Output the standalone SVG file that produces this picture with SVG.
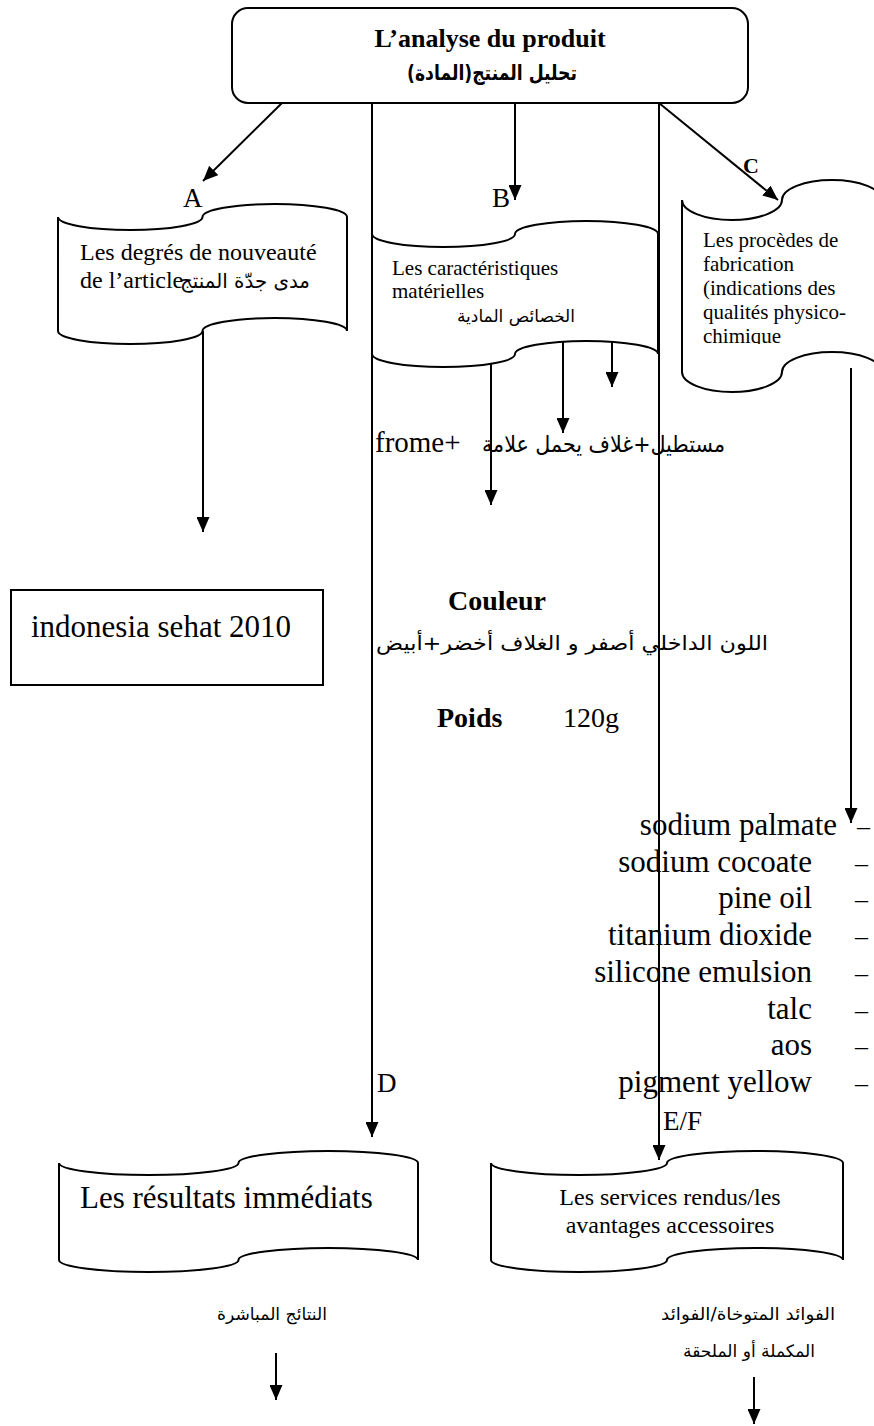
<svg xmlns="http://www.w3.org/2000/svg" width="874" height="1426" viewBox="0 0 874 1426">
<style>
.t{font-family:"Liberation Serif","Times New Roman",serif;fill:#000}
.b{font-weight:bold}
.ar{font-family:"DejaVu Sans",sans-serif;fill:#000}
.shape{fill:#fff;stroke:#000;stroke-width:2}
.ln{fill:none;stroke:#000;stroke-width:2}
</style>
<defs>
<marker id="ah" markerUnits="userSpaceOnUse" markerWidth="15" markerHeight="13" refX="15" refY="6.5" orient="auto">
<path d="M0,0 L15,6.5 L0,13 Z" fill="#000"/>
</marker>
<clipPath id="cclip"><rect x="682" y="200" width="200" height="144"/></clipPath>
</defs>
<rect width="874" height="1426" fill="#fff"/>

<g id="node-title">
<rect class="shape" x="232" y="8" width="516" height="95" rx="16"/>
<text class="t b" x="490" y="47" font-size="26" text-anchor="middle">L’analyse du produit</text>
<text class="ar b" x="492" y="80" font-size="21" text-anchor="middle" textLength="170" lengthAdjust="spacingAndGlyphs">تحليل المنتج(المادة)&#x200F;</text>
</g>

<g id="node-A">
<path class="shape" d="M58,217 A72.25,13 0 0 0 202.5,217 A72.25,13 0 0 1 347,217 L347,331 A72.25,13 0 0 0 202.5,331 A72.25,13 0 0 1 58,331 Z"/>
<text class="t" x="80" y="260" font-size="24">Les degrés de nouveauté</text>
<text class="t" x="80" y="288" font-size="24">de l’article</text>
<text class="ar" x="245" y="288" font-size="20" text-anchor="middle" textLength="130" lengthAdjust="spacingAndGlyphs">مدى جدّة المنتج</text>
</g>

<g id="node-B">
<path class="shape" d="M372,234 A71.5,13 0 0 0 515,234 A71.5,13 0 0 1 658,234 L658,354 A71.5,13 0 0 0 515,354 A71.5,13 0 0 1 372,354 Z"/>
<text class="t" x="392" y="275" font-size="21">Les caractéristiques</text>
<text class="t" x="392" y="298" font-size="21">matérielles</text>
<text class="ar" x="516" y="322" font-size="17" text-anchor="middle" textLength="118" lengthAdjust="spacingAndGlyphs">الخصائص المادية</text>
</g>

<g id="node-C">
<path class="shape" d="M682,200 A50,20 0 0 0 782,200 A50,20 0 0 1 882,200 L882,372 A50,20 0 0 0 782,372 A50,20 0 0 1 682,372 Z"/>
<g clip-path="url(#cclip)">
<text class="t" x="703" y="247" font-size="21">Les procèdes de</text>
<text class="t" x="703" y="271" font-size="21">fabrication</text>
<text class="t" x="703" y="295" font-size="21">(indications des</text>
<text class="t" x="703" y="319" font-size="21">qualités physico-</text>
<text class="t" x="703" y="343" font-size="21">chimique</text>
</g>
</g>

<g id="node-indonesia">
<rect class="shape" x="11" y="590" width="312" height="95"/>
<text class="t" x="31" y="637" font-size="31">indonesia sehat 2010</text>
</g>

<g id="node-results">
<path class="shape" d="M59,1163 A89.75,12 0 0 0 238.5,1163 A89.75,12 0 0 1 418,1163 L418,1260 A89.75,12 0 0 0 238.5,1260 A89.75,12 0 0 1 59,1260 Z"/>
<text class="t" x="80" y="1208" font-size="31">Les résultats immédiats</text>
</g>

<g id="node-services">
<path class="shape" d="M491,1163 A88,12 0 0 0 667,1163 A88,12 0 0 1 843,1163 L843,1260 A88,12 0 0 0 667,1260 A88,12 0 0 1 491,1260 Z"/>
<text class="t" x="670" y="1205" font-size="24" text-anchor="middle">Les services rendus/les</text>
<text class="t" x="670" y="1233" font-size="24" text-anchor="middle">avantages accessoires</text>
</g>

<g id="labels">
<text class="t" x="183" y="207" font-size="27">A</text>
<text class="t" x="492" y="207" font-size="27">B</text>
<text class="t b" x="743" y="173" font-size="22">C</text>
<text class="t" x="377" y="1092" font-size="27">D</text>
<text class="t" x="663" y="1130" font-size="27">E/F</text>

<text class="t" x="375" y="452" font-size="29">frome+</text>
<text class="ar" x="603.5" y="452" font-size="23" text-anchor="middle" textLength="243" lengthAdjust="spacingAndGlyphs">مستطيل+غلاف يحمل علامة</text>

<text class="t b" x="497" y="610" font-size="28" text-anchor="middle">Couleur</text>
<text class="ar" x="572" y="650" font-size="20" text-anchor="middle" textLength="392" lengthAdjust="spacingAndGlyphs">اللون الداخلي أصفر و الغلاف أخضر+أبيض</text>
<text class="t b" x="437" y="727" font-size="28">Poids</text>
<text class="t" x="563" y="727" font-size="28">120g</text>

<g class="t" font-size="31" text-anchor="end">
<text x="837" y="835">sodium palmate</text>
<text x="812" y="872">sodium cocoate</text>
<text x="812" y="908">pine oil</text>
<text x="812" y="945">titanium dioxide</text>
<text x="812" y="982">silicone emulsion</text>
<text x="812" y="1019">talc</text>
<text x="812" y="1055">aos</text>
<text x="812" y="1092">pigment yellow</text>
</g>
<g class="t" font-size="26">
<text x="857" y="835">–</text>
<text x="855" y="872">–</text>
<text x="855" y="908">–</text>
<text x="855" y="945">–</text>
<text x="855" y="982">–</text>
<text x="855" y="1019">–</text>
<text x="855" y="1055">–</text>
<text x="855" y="1092">–</text>
</g>

<text class="ar" x="272" y="1320" font-size="17" text-anchor="middle" textLength="110" lengthAdjust="spacingAndGlyphs">النتائج المباشرة</text>
<text class="ar" x="748" y="1320" font-size="17" text-anchor="middle" textLength="174" lengthAdjust="spacingAndGlyphs">الفوائد المتوخاة/الفوائد</text>
<text class="ar" x="749" y="1357" font-size="17" text-anchor="middle" textLength="132" lengthAdjust="spacingAndGlyphs">المكملة أو الملحقة</text>
</g>

<g id="connectors" class="ln" marker-end="url(#ah)">
<path d="M282,103 L203,181"/>
<path d="M515,103 L515,200"/>
<path d="M659,103 L778,200"/>
<path d="M372,103 L372,1137"/>
<path d="M659,103 L659,1160"/>
<path d="M203,331 L203,532"/>
<path d="M491,364 L491,505"/>
<path d="M563,342 L563,433"/>
<path d="M612,342 L612,387"/>
<path d="M851,368 L851,823"/>
<path d="M276,1353 L276,1400"/>
<path d="M754,1377 L754,1424"/>
</g>
</svg>
